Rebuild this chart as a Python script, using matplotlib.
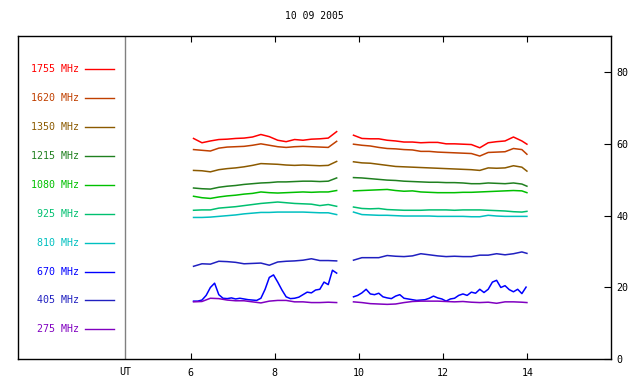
import matplotlib
matplotlib.use("Agg")
import matplotlib.pyplot as plt
import matplotlib.transforms as mtransforms

# time axis (UT hours) for the two observing blocks
t1 = [6.07, 6.27, 6.47, 6.67, 6.87, 7.07, 7.27, 7.47, 7.67, 7.87, 8.07, 8.27,
      8.47, 8.67, 8.87, 9.07, 9.27, 9.47]
t2 = [9.87, 10.07, 10.27, 10.47, 10.67, 10.87, 11.07, 11.27, 11.47, 11.67, 11.87,
      12.07, 12.27, 12.47, 12.67, 12.87, 13.07, 13.27, 13.47, 13.67, 13.87, 13.99]
# denser time axis for 670 MHz
t1f = [6.07, 6.17, 6.27, 6.37, 6.47, 6.57, 6.67, 6.77, 6.87, 6.97, 7.07, 7.17,
       7.27, 7.37, 7.47, 7.57, 7.67, 7.77, 7.87, 7.97, 8.07, 8.17, 8.27, 8.37,
       8.47, 8.57, 8.67, 8.77, 8.87, 8.97, 9.07, 9.17, 9.27, 9.37, 9.47]
t2f = [9.87, 9.97, 10.07, 10.17, 10.27, 10.37, 10.47, 10.57, 10.67, 10.77, 10.87,
       10.97, 11.07, 11.17, 11.27, 11.37, 11.47, 11.57, 11.67, 11.77, 11.87, 11.97,
       12.07, 12.17, 12.27, 12.37, 12.47, 12.57, 12.67, 12.77, 12.87, 12.97, 13.07,
       13.17, 13.27, 13.37, 13.47, 13.57, 13.67, 13.77, 13.87, 13.97]

f1755_a = [61.5, 60.3, 60.8, 61.2, 61.3, 61.5, 61.6, 61.9, 62.6, 62.0, 61.0, 60.6,
           61.2, 61.0, 61.3, 61.4, 61.6, 63.4]
f1755_b = [62.4, 61.5, 61.4, 61.4, 61.0, 60.8, 60.5, 60.5, 60.3, 60.4, 60.4, 60.0,
           60.0, 59.9, 59.8, 58.9, 60.3, 60.6, 60.8, 61.9, 60.8, 59.9]
f1620_a = [58.4, 58.2, 58.0, 58.8, 59.1, 59.2, 59.3, 59.6, 60.0, 59.6, 59.2, 59.0,
           59.2, 59.3, 59.2, 59.1, 59.0, 60.7]
f1620_b = [59.9, 59.6, 59.4, 59.0, 58.7, 58.6, 58.4, 58.3, 57.9, 57.9, 57.7, 57.6,
           57.5, 57.4, 57.3, 56.6, 57.6, 57.7, 57.8, 58.7, 58.4, 57.1]
f1350_a = [52.6, 52.5, 52.2, 52.8, 53.1, 53.3, 53.6, 54.0, 54.5, 54.4, 54.3, 54.1,
           54.0, 54.1, 54.0, 53.9, 54.0, 55.1]
f1350_b = [55.0, 54.7, 54.6, 54.3, 54.0, 53.7, 53.6, 53.5, 53.4, 53.3, 53.2, 53.1,
           53.0, 52.9, 52.8, 52.6, 53.3, 53.2, 53.3, 53.9, 53.5, 52.4]
f1215_a = [47.7, 47.5, 47.4, 47.9, 48.2, 48.4, 48.7, 48.9, 49.1, 49.2, 49.4, 49.4,
           49.5, 49.6, 49.6, 49.5, 49.6, 50.5]
f1215_b = [50.6, 50.5, 50.3, 50.1, 49.9, 49.8, 49.6, 49.5, 49.4, 49.3, 49.3, 49.2,
           49.2, 49.1, 48.9, 48.9, 49.1, 49.0, 48.9, 49.1, 48.8, 48.2]
f1080_a = [45.4, 45.0, 44.8, 45.2, 45.5, 45.7, 46.0, 46.2, 46.6, 46.4, 46.3, 46.4,
           46.5, 46.6, 46.5, 46.6, 46.6, 47.0]
f1080_b = [46.9, 47.0, 47.1, 47.2, 47.3, 47.0, 46.8, 46.9, 46.6, 46.5, 46.4, 46.4,
           46.4, 46.5, 46.5, 46.6, 46.7, 46.8, 46.9, 47.0, 46.9, 46.4]
f925_a = [41.5, 41.6, 41.6, 42.1, 42.3, 42.5, 42.8, 43.1, 43.4, 43.6, 43.8, 43.6,
          43.4, 43.3, 43.2, 42.8, 43.1, 42.6]
f925_b = [42.4, 42.0, 41.9, 42.0, 41.7, 41.6, 41.5, 41.5, 41.5, 41.6, 41.6, 41.6,
          41.5, 41.6, 41.6, 41.6, 41.5, 41.4, 41.3, 41.1, 41.0, 41.2]
f810_a = [39.5, 39.5, 39.6, 39.8, 40.0, 40.2, 40.5, 40.7, 40.9, 40.9, 41.0, 41.0,
          41.0, 41.0, 40.9, 40.8, 40.8, 40.3]
f810_b = [41.0, 40.3, 40.2, 40.1, 40.1, 40.0, 39.9, 39.9, 39.9, 39.9, 39.8, 39.8,
          39.8, 39.8, 39.7, 39.7, 40.1, 39.9, 39.8, 39.8, 39.8, 39.8]
f670_a = [16.2, 16.2, 16.5, 17.8, 20.0, 21.2, 18.0, 17.0, 16.9, 17.1, 16.8, 17.0,
          16.8, 16.6, 16.5, 16.4, 17.0, 19.5, 22.8, 23.5, 21.5, 19.3, 17.4, 16.9,
          17.0, 17.3, 18.0, 18.7, 18.5, 19.3, 19.5, 21.5, 20.8, 24.8, 24.0]
f670_b = [17.4, 17.8, 18.5, 19.5, 18.2, 18.0, 18.4, 17.4, 17.1, 16.9, 17.6, 18.0,
          17.0, 16.8, 16.6, 16.4, 16.5, 16.6, 17.0, 17.6, 17.1, 16.8, 16.2, 16.8,
          17.0, 17.8, 18.2, 17.8, 18.7, 18.4, 19.5, 18.6, 19.5, 21.5, 22.0, 20.0,
          20.5, 19.4, 18.8, 19.5, 18.3, 20.1]
f405_a = [25.9, 26.6, 26.5, 27.3, 27.2, 27.0, 26.6, 26.7, 26.8, 26.2, 27.1, 27.3,
          27.4, 27.6, 28.0, 27.5, 27.5, 27.4]
f405_b = [27.6, 28.3, 28.3, 28.3, 28.9, 28.7, 28.6, 28.8, 29.4, 29.1, 28.8, 28.6,
          28.7, 28.6, 28.6, 29.0, 29.0, 29.4, 29.1, 29.4, 29.9, 29.5]
f275_a = [16.0, 16.1, 17.0, 16.9, 16.5, 16.3, 16.3, 16.0, 15.7, 16.2, 16.4, 16.4,
          16.0, 16.0, 15.8, 15.8, 15.9, 15.8]
f275_b = [16.0, 15.8, 15.5, 15.4, 15.3, 15.4, 15.8, 16.1, 16.2, 16.2, 16.2, 16.1,
          16.0, 16.1, 15.9, 15.8, 15.9, 15.6, 16.0, 16.0, 15.9, 15.8]

labels = ["1755 MHz", "1620 MHz", "1350 MHz", "1215 MHz", "1080 MHz",
          "925 MHz", "810 MHz", "670 MHz", "405 MHz", "275 MHz"]
colors = ["#ff0000", "#c04000", "#8b5a00", "#208020", "#00c000",
          "#00c070", "#00c0c0", "#0000ff", "#2020c0", "#8000c0"]

series = [
    (t1, f1755_a, t2, f1755_b),
    (t1, f1620_a, t2, f1620_b),
    (t1, f1350_a, t2, f1350_b),
    (t1, f1215_a, t2, f1215_b),
    (t1, f1080_a, t2, f1080_b),
    (t1, f925_a, t2, f925_b),
    (t1, f810_a, t2, f810_b),
    (t1f, f670_a, t2f, f670_b),
    (t1, f405_a, t2, f405_b),
    (t1, f275_a, t2, f275_b),
]

plt.rcParams['font.family'] = ['DejaVu Sans Mono']

fig = plt.figure(figsize=(6.4, 3.84), dpi=100)
ax = fig.add_axes([0.0288, 0.0643, 0.9254, 0.8417])

for (xa, ya, xb, yb), c in zip(series, colors):
    ax.plot(xa, ya, color=c, lw=1.1)
    ax.plot(xb, yb, color=c, lw=1.1)

ax.set_xlim(1.91, 15.98)
ax.set_ylim(0, 90)

# separator between legend area and data
ax.axvline(4.447, color="#808080", lw=1)

# legend on the left
for i, (lab, c) in enumerate(zip(labels, colors)):
    yf = (359 - (68 + 29 * i)) / 324
    ax.text(0.1017, yf, lab, color=c, fontsize=7.2, ha="right", va="center",
            transform=ax.transAxes)
    ax.plot([0.112, 0.162], [yf, yf], color=c, lw=1, transform=ax.transAxes)

ax.set_xticks([6, 8, 10, 12, 14])
ax.set_xticklabels(["6", "8", "10", "12", "14"])
ax.tick_params(axis="x", direction="in", length=4, top=True, bottom=True,
               labelsize=7.2, pad=6)
ax.yaxis.tick_right()
ax.set_yticks([0, 20, 40, 60, 80])
ax.tick_params(axis="y", direction="in", length=5, left=False, right=True,
               labelsize=7.2, pad=4)
trans = mtransforms.blended_transform_factory(ax.transData, ax.transAxes)
ax.text(4.447, -0.025, "UT", fontsize=7.2, ha="center", va="top", transform=trans)

for s in ax.spines.values():
    s.set_linewidth(1)

ax.set_title("10 09 2005", fontsize=7, pad=12)

fig.savefig("out.png", dpi=100)
